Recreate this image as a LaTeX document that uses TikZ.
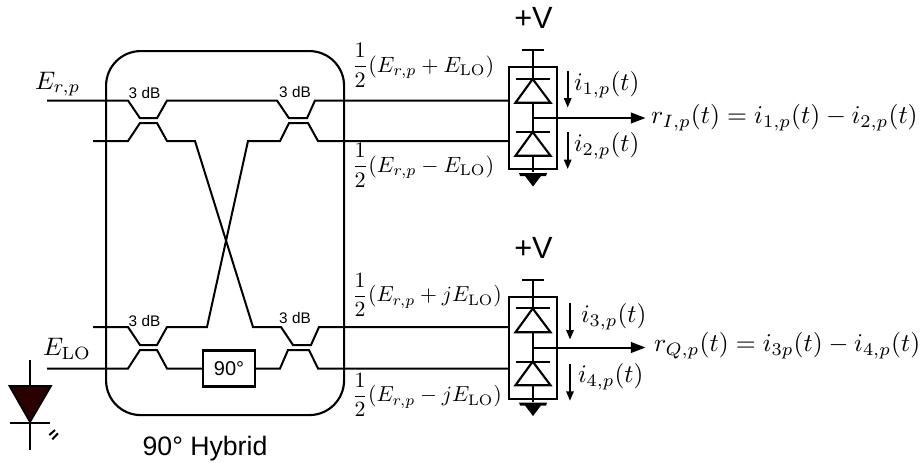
\documentclass[tikz,border=0pt]{standalone}
\usepackage{fontspec}
\usepackage{amsmath}
\newfontfamily\lsans{Liberation Sans}
\usetikzlibrary{arrows.meta}
\definecolor{ldfill}{HTML}{2B0000}
\newcommand\mlbl[2]{\scalebox{#1}{$#2$}}
\newcommand\sftext[2]{\lsans\fontsize{#1}{#1}\selectfont #2}
\tikzset{
 wire/.style={line width=1.5pt,line join=miter},
 boxline/.style={line width=1.6pt},
 txt/.style={inner sep=0pt,outer sep=0pt},
 diodeshape/.style={draw,line width=1.6pt,fill=white,line join=miter},
 arr/.style={line width=1.5pt,-{Triangle[length=11pt,width=8pt]}},
 arrs/.style={line width=1.3pt,-{Triangle[length=7pt,width=5.5pt]}},
}
\begin{document}
\begin{tikzpicture}[x=0.75pt,y=-0.75pt]
\useasboundingbox (0,0) rectangle (923,462);
% hybrid
\node[draw,boxline,rounded corners=26pt,minimum width=178.5pt,minimum height=273pt,inner sep=0pt,anchor=north west] (hyb) at (105,50) {};
% wires
\coordinate (erin) at (47,100.5);
\coordinate (upin) at (93,141);
\coordinate (loin) at (47,368.5);
\coordinate (lowin) at (93,327);
\coordinate (o1) at (509,100.5);
\coordinate (o2) at (509,141);
\coordinate (o3) at (509,327);
\coordinate (o4) at (509,368.5);
\draw[wire] (erin) -- (128,100.5) -- (140,118.2) -- (157,118.2) -- (167,100.5) -- (277,100.5) -- (289,118.2) -- (307,118.2) -- (315,100.5) -- (o1);
\draw[wire] (upin) -- (128,141) -- (140,123) -- (157,123) -- (167,141) -- (195,141) -- (253,327) -- (281,327) -- (293,345) -- (311,345) -- (319,327) -- (o3);
\draw[wire] (o2) -- (318,141) -- (308,123) -- (289,123) -- (280,141) -- (248,141) -- (207,327) -- (167,327) -- (157,345) -- (140,345) -- (128,327) -- (lowin);
\node[draw,boxline,fill=white,minimum width=39pt,minimum height=27pt,inner sep=0pt] (ps) at (229,368.5) {\sftext{15}{90°}};
\draw[wire] (loin) -- (128,368.5) -- (140,350) -- (157,350) -- (167,368.5) -- (ps.west);
\draw[wire] (ps.east) -- (280,368.5) -- (288,350) -- (309,350) -- (318,368.5) -- (o4);
% labels
\node[txt] (c1) at (144.5,93) {\sftext{11.5}{3 dB}};
\node[txt] (c2) at (295,92) {\sftext{11.5}{3 dB}};
\node[txt] (c3) at (144.5,321) {\sftext{11.5}{3 dB}};
\node[txt] (c4) at (295,318) {\sftext{11.5}{3 dB}};
\node[txt] (hl) at (205,449) {\sftext{20}{90° Hybrid}};
\node[txt,anchor=west] (er) at (35,84) {\mlbl{1.9}{E_{r,p}}};
\node[txt,anchor=west] (elo) at (43,349) {\mlbl{1.9}{E_{\mathrm{LO}}}};
\node[txt,anchor=west] (f1) at (352,65) {\mlbl{1.66}{\dfrac12(E_{r,p}+E_{\mathrm{LO}})}};
\node[txt,anchor=west] (f2) at (352,165) {\mlbl{1.66}{\dfrac12(E_{r,p}-E_{\mathrm{LO}})}};
\node[txt,anchor=west] (f3) at (352,295) {\mlbl{1.63}{\dfrac12(E_{r,p}+jE_{\mathrm{LO}})}};
\node[txt,anchor=west] (f4) at (352,395) {\mlbl{1.63}{\dfrac12(E_{r,p}-jE_{\mathrm{LO}})}};
% laser diode
\coordinate (lt) at (30,360);
\coordinate (lb) at (30,450);
\draw[wire] (lt) -- (lb);
\draw[line width=1.3pt,fill=ldfill,line join=miter] (9.5,386) -- (51,386) -- (30,422) -- cycle;
\draw[wire] (10,423) -- (50,423);
\draw[line width=1.5pt] (49.3,435) -- (55,430);
\draw[line width=1.5pt] (52.3,439.3) -- (58,433.3);
% receivers
\foreach \dy in {0,229.5}{
 \begin{scope}[yshift=-0.75*\dy]
 \draw[wire] (522,50.3) -- (544,50.3);
 \draw[wire] (532.7,50.3) -- (532.7,172);
 \draw[boxline] (509.3,67.3) rectangle (557.3,169.3);
 \draw[diodeshape] (532.7,79) -- (550.5,102.7) -- (515.5,102.7) -- cycle;
 \draw[wire] (516,78.5) -- (550,78.5);
 \draw[diodeshape] (532.7,132) -- (550.5,155.7) -- (515.5,155.7) -- cycle;
 \draw[wire] (516,132) -- (550,132);
 \draw[wire] (532.7,155.7) -- (532.7,172);
 \fill (519,173) -- (547,173) -- (546,176) -- (541,176) -- (533,186.5) -- (525,176) -- (520,176) -- cycle;
 \draw[arr] (532.7,118) -- (645.5,118);
 \end{scope}
}
\coordinate (a1) at (567.7,71); \coordinate (a2) at (567.7,107.5);
\coordinate (a3) at (567.7,132); \coordinate (a4) at (567.7,169);
\coordinate (a5) at (570,302.7); \coordinate (a6) at (570,339.5);
\coordinate (a7) at (570,364); \coordinate (a8) at (570,400.7);
\draw[arrs] (a1) -- (a2);
\draw[arrs] (a3) -- (a4);
\draw[arrs] (a5) -- (a6);
\draw[arrs] (a7) -- (a8);
\node[txt] (v1) at (533.5,18) {\sftext{23}{+V}};
\node[txt] (v2) at (533.5,248) {\sftext{23}{+V}};
\node[txt,anchor=west] (i1) at (574,85) {\mlbl{1.9}{i_{1,p}(t)}};
\node[txt,anchor=west] (i2) at (574,146) {\mlbl{1.9}{i_{2,p}(t)}};
\node[txt,anchor=west] (i3) at (581,317) {\mlbl{1.9}{i_{3,p}(t)}};
\node[txt,anchor=west] (i4) at (578,377) {\mlbl{1.9}{i_{4,p}(t)}};
\node[txt,anchor=west] (r1) at (651,118) {\mlbl{1.92}{r_{I,p}(t)=i_{1,p}(t)-i_{2,p}(t)}};
\node[txt,anchor=west] (r2) at (654,346) {\mlbl{1.92}{r_{Q,p}(t)=i_{3p}(t)-i_{4,p}(t)}};
\end{tikzpicture}
\end{document}
